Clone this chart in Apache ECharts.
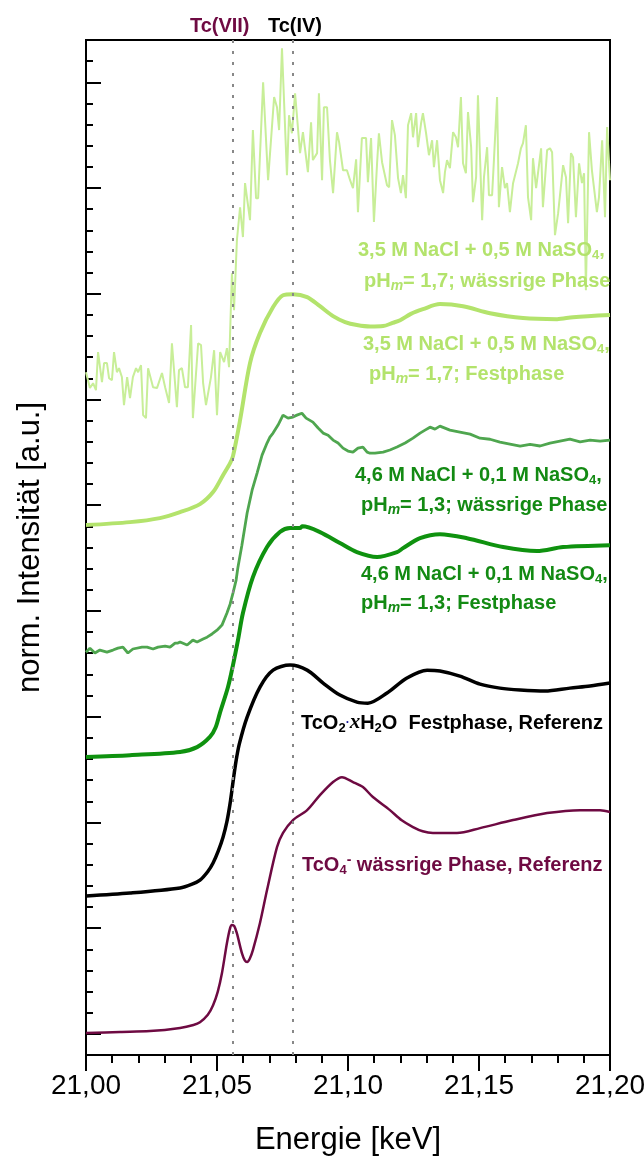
<!DOCTYPE html>
<html><head><meta charset="utf-8">
<script src="https://cdn.jsdelivr.net/npm/echarts@6/dist/echarts.min.js"></script>
<style>html,body{margin:0;padding:0;background:#fff}#c{width:644px;height:1156px}</style>
</head><body><div id="c"></div>
<script>
// Energy in eV, intensity in a.u. (stacked with offsets, 1 a.u. = one minor tick)
const energyRange = [21000, 21200];
const xTickLabels = ['21,00', '21,05', '21,10', '21,15', '21,20'];
const yRange = [0, 48];
const yMajorTicks = [1, 6, 11, 16, 21, 26, 31, 36, 41, 46];
const edgeMarkers = [
  { name: 'Tc(VII)', energy: 21056, color: '#6e0a42' },
  { name: 'Tc(IV)', energy: 21079, color: '#000000' }
];

const tcO4Aqueous = [[21000,1.04],[21013,1.09],[21024.4,1.13],[21035.9,1.28],[21041,1.42],[21043.5,1.55],[21046.5,1.90],[21048.5,2.35],[21050.3,3.00],[21051.9,3.88],[21053.8,5.30],[21055.0,6.00],[21055.7,6.15],[21056.6,6.10],[21057.6,5.75],[21059.5,4.82],[21060.6,4.48],[21061.5,4.40],[21062.5,4.55],[21063.7,4.96],[21066.4,6.24],[21069.1,7.80],[21072.9,9.83],[21075.2,10.50],[21079,11.11],[21084.4,11.58],[21089.3,12.29],[21094.3,12.91],[21097.7,13.14],[21101.9,12.91],[21105.7,12.67],[21109.5,12.20],[21116,11.58],[21120.5,11.10],[21124.8,10.78],[21128.5,10.58],[21132.4,10.50],[21141.6,10.50],[21150.4,10.73],[21163,11.11],[21176,11.44],[21188.6,11.58],[21196.2,11.58],[21200,11.49]];

const tcO2Solid = [[21000,7.52],[21016.8,7.66],[21035.9,7.90],[21040.5,8.08],[21043.5,8.27],[21046.5,8.68],[21048.5,9.08],[21050.5,9.65],[21052.3,10.30],[21053.8,11.05],[21055.0,11.90],[21056.1,12.90],[21057.2,13.85],[21058.5,14.70],[21061.5,15.98],[21066.4,17.40],[21071.4,18.20],[21077.9,18.44],[21084.4,18.20],[21090.5,17.59],[21096.9,17.02],[21103.4,16.69],[21107.6,16.64],[21114.9,17.12],[21122.5,17.83],[21130.2,18.20],[21135.1,18.16],[21142.7,17.92],[21150.4,17.54],[21158.0,17.35],[21165.7,17.26],[21175.2,17.21],[21184.7,17.35],[21192.4,17.45],[21200,17.59]];

const nacl46Solid = [[21000,14.09],[21016.8,14.18],[21035.9,14.33],[21042.4,14.56],[21047.3,15.04],[21049.5,15.50],[21051.1,16.17],[21054.2,17.40],[21056.1,18.44],[21058.0,19.62],[21059.9,20.90],[21063.7,22.60],[21069.1,24.02],[21074.0,24.73],[21077.9,24.92],[21081.7,24.92],[21082.6,25.00],[21089.3,24.73],[21096.9,24.21],[21103.4,23.78],[21111.1,23.55],[21118.7,23.78],[21121.0,23.97],[21127.5,24.44],[21135.1,24.63],[21145.4,24.44],[21159.2,24.02],[21172.1,23.83],[21182.1,24.02],[21200,24.11]];

const nacl46Aqueous = [[21000,19.05],[21001.5,19.24],[21003.4,19.01],[21005.3,19.15],[21008.0,19.05],[21010.3,19.15],[21012.2,19.24],[21014.1,19.29],[21016.0,19.01],[21017.9,19.20],[21021.4,19.29],[21023.3,19.29],[21025.6,19.20],[21027.5,19.29],[21030.2,19.34],[21032.1,19.29],[21034.0,19.48],[21035.1,19.48],[21035.9,19.53],[21038.6,19.39],[21040.8,19.62],[21042.4,19.53],[21044.7,19.67],[21046.2,19.76],[21048.1,19.91],[21050.0,20.09],[21051.9,20.33],[21053.8,20.90],[21055.0,21.32],[21056.1,21.84],[21057.3,22.46],[21058.0,23.07],[21059.5,24.11],[21061.5,25.63],[21063.4,26.71],[21065.3,27.52],[21067.2,28.37],[21069.1,28.94],[21070.2,29.22],[21071.4,29.41],[21073.3,29.79],[21075.2,30.26],[21077.1,30.12],[21079.0,30.17],[21080.5,30.26],[21082.4,30.35],[21084.0,30.12],[21086.6,29.93],[21088.6,29.65],[21090.5,29.41],[21092.4,29.31],[21094.3,29.08],[21096.2,28.94],[21098.1,28.70],[21100.0,28.56],[21101.9,28.51],[21103.8,28.70],[21105.7,28.75],[21107.3,28.51],[21108.4,28.46],[21110.3,28.46],[21113.4,28.51],[21116.0,28.61],[21118.7,28.75],[21121.8,28.94],[21124.8,29.17],[21127.5,29.41],[21129.4,29.55],[21131.3,29.69],[21133.2,29.60],[21135.1,29.74],[21138.9,29.55],[21142.7,29.46],[21146.6,29.36],[21150.4,29.17],[21154.2,29.12],[21158.0,28.98],[21161.8,28.89],[21165.7,28.79],[21169.5,28.88],[21173.3,28.80],[21177.1,28.94],[21180.9,29.03],[21184.7,29.12],[21188.6,29.00],[21192.4,29.08],[21196.2,29.03],[21200,29.08]];

const nacl35Solid = [[21000,25.06],[21016.8,25.20],[21028.2,25.39],[21035.9,25.67],[21043.5,26.05],[21048.5,26.62],[21052.3,27.42],[21055.0,27.99],[21056.1,28.32],[21058.8,30.02],[21062.6,32.72],[21066.4,34.14],[21071.4,35.37],[21075.2,35.93],[21079.0,35.98],[21084.4,35.84],[21089.3,35.41],[21094.3,34.94],[21098.9,34.66],[21103.4,34.52],[21108.5,34.45],[21113.4,34.47],[21117.0,34.62],[21119.9,34.75],[21124.0,35.05],[21128.6,35.27],[21135.1,35.51],[21143.9,35.41],[21154.2,35.08],[21166.8,34.85],[21179.8,34.80],[21185.9,34.89],[21200,34.99]];

const nacl35Aqueous = [[21000,32.29],[21001.5,31.54],[21002.7,31.77],[21003.8,31.44],[21004.6,33.24],[21006.1,31.82],[21006.9,32.72],[21008,32.72],[21008.8,32.01],[21009.9,31.91],[21010.7,33.24],[21011.8,32.29],[21012.6,32.48],[21013.7,32.06],[21014.5,30.73],[21015.7,32.06],[21016.8,31.06],[21017.9,32.06],[21019.1,32.48],[21019.9,32.29],[21021,32.62],[21021.8,30.26],[21022.9,30.12],[21023.7,32.48],[21025.6,31.58],[21027.1,31.54],[21029,32.25],[21030.2,31.58],[21030.9,31.58],[21031.7,30.83],[21032.8,33.66],[21034.7,30.64],[21035.5,32.39],[21036.6,32.48],[21037.8,31.58],[21038.9,31.58],[21040.1,34.52],[21040.8,30.12],[21042.8,33.66],[21043.9,33.57],[21044.7,31.77],[21045.8,30.73],[21047.7,32.06],[21048.9,33.33],[21050,30.26],[21051.2,33.24],[21052.7,32.77],[21053.8,33.43],[21054.6,32.53],[21055.7,36.97],[21056.5,35.22],[21057.6,38.53],[21058.8,40.09],[21059.9,38.68],[21060.7,41.23],[21062.6,39.48],[21063.7,43.74],[21064.9,40.52],[21065.7,40.52],[21067.6,46.00],[21069.5,41.37],[21071.8,45.30],[21072.9,44.82],[21073.7,43.74],[21074.8,47.61],[21076.7,41.61],[21077.5,44.44],[21078.6,43.59],[21079.8,45.48],[21081.7,42.65],[21082.8,43.64],[21084.7,41.75],[21085.9,44.11],[21086.6,42.32],[21088.2,42.65],[21088.9,45.48],[21090.1,41.37],[21090.8,44.82],[21092,44.82],[21093.1,42.32],[21094.3,40.76],[21095.8,43.64],[21096.6,43.17],[21098.1,41.84],[21099.6,41.84],[21100.8,41.37],[21101.9,40.99],[21103.1,42.36],[21103.8,39.86],[21105.3,43.36],[21106.9,43.36],[21107.6,41.28],[21108.8,43.36],[21109.9,39.39],[21111.1,42.17],[21111.8,43.59],[21113,42.22],[21113.7,42.22],[21114.9,41.13],[21115.7,41.04],[21116.8,44.21],[21117.9,43.50],[21119.1,41.47],[21120.2,40.76],[21121,41.61],[21122.1,40.52],[21122.9,43.97],[21124.1,44.54],[21124.8,43.40],[21126,44.54],[21126.7,42.93],[21127.9,44.07],[21128.6,44.54],[21129.8,43.59],[21130.9,42.55],[21132.1,43.26],[21132.8,41.99],[21134,43.26],[21135.1,41.37],[21136.3,40.76],[21137,41.75],[21137.8,42.32],[21138.9,41.94],[21140.1,43.64],[21141.2,43.40],[21142,42.93],[21143.1,45.30],[21143.9,42.17],[21145,41.70],[21145.8,44.59],[21147,42.93],[21147.7,40.33],[21148.9,41.51],[21149.6,45.39],[21151.2,39.48],[21151.9,41.51],[21153.1,42.93],[21153.8,40.66],[21155,40.66],[21155.7,42.32],[21156.9,45.30],[21157.6,40.09],[21158.8,41.99],[21159.9,40.99],[21160.7,41.23],[21161.8,39.86],[21163,41.23],[21163.7,41.23],[21164.9,42.17],[21166,42.88],[21166.8,43.12],[21167.9,43.97],[21168.7,40.57],[21169.9,39.48],[21170.6,42.41],[21171.8,40.99],[21172.5,41.04],[21173.7,42.88],[21174.4,40.09],[21176,42.79],[21177.1,42.88],[21177.9,42.69],[21179,38.77],[21180.2,39.81],[21180.9,39.81],[21182.1,42.08],[21183.2,41.51],[21184,39.34],[21185.1,42.65],[21185.9,42.46],[21187,39.62],[21188.2,42.17],[21189.3,41.23],[21190.1,41.70],[21190.8,36.17],[21192,43.64],[21193.1,41.84],[21195,39.86],[21195.8,40.57],[21197,43.26],[21198.1,39.62],[21198.9,43.88],[21200,41.37]];

const FONT = 'Liberation Sans, Arial, Helvetica, sans-serif';
const C_PURPLE = '#6e0a42', C_LG_AQ = '#c8ee98', C_LG = '#b3e36c', C_MG = '#4fa64f', C_DG = '#0f920f', C_DG_TXT = '#138a13';

function richFor(color) {
  const base = { fontFamily: FONT, fontWeight: 'bold', fill: color };
  return {
    s: Object.assign({}, base, { fontSize: 13, lineHeight: 13, verticalAlign: 'bottom' }),
    m: Object.assign({}, base, { fontSize: 14, lineHeight: 14, fontStyle: 'italic', verticalAlign: 'bottom' }),
    p: Object.assign({}, base, { fontSize: 14, lineHeight: 14, verticalAlign: 'top' }),
    d: Object.assign({}, base, { fontSize: 12, lineHeight: 24, fill: '#1a1a9a' }),
    x: { fontFamily: 'Liberation Serif, Times New Roman, serif', fontStyle: 'italic', fontWeight: 'bold', fontSize: 21, lineHeight: 24, fill: color }
  };
}
function note(x, y, text, color) {
  return {
    type: 'text', x: x, y: y, silent: true, z: 100,
    style: { text: text, fill: color, fontFamily: FONT, fontWeight: 'bold', fontSize: 20, lineHeight: 24, verticalAlign: 'middle', align: 'left', rich: richFor(color) }
  };
}

const chart = echarts.init(document.getElementById('c'), null, { renderer: 'canvas' });
const lineSeries = (name, data, color, width, smooth, z) => ({
  name, type: 'line', data, symbol: 'none', smooth, z, xAxisIndex: 0, yAxisIndex: 0,
  lineStyle: { color, width }, itemStyle: { color }, animation: false
});

const series = [
  lineSeries('3,5 M NaCl aq', nacl35Aqueous, C_LG_AQ, 2, false, 2),
  lineSeries('3,5 M NaCl fest', nacl35Solid, C_LG, 4, 0.3, 3),
  lineSeries('4,6 M NaCl aq', nacl46Aqueous, C_MG, 2.8, false, 3),
  lineSeries('4,6 M NaCl fest', nacl46Solid, C_DG, 4, 0.3, 3),
  lineSeries('TcO2', tcO2Solid, '#000000', 3.5, 0.3, 3),
  lineSeries('TcO4', tcO4Aqueous, C_PURPLE, 2.5, 0.3, 3)
];
series[0].markLine = {
  silent: true, symbol: 'none', animation: false,
  lineStyle: { color: '#888888', type: [3, 8], width: 2 },
  label: { show: true, position: 'end', fontFamily: FONT, fontWeight: 'bold', fontSize: 20, distance: 4 },
  data: edgeMarkers.map((m, i) => ({ xAxis: m.energy, label: { formatter: m.name, color: m.color, offset: [i === 0 ? -13 : 2, 0] } }))
};

chart.setOption({
  animation: false,
  backgroundColor: '#ffffff',
  grid: { left: 86, right: 34, top: 40, bottom: 101, containLabel: false, outerBoundsMode: 'none', show: true, borderColor: '#000', borderWidth: 2, backgroundColor: 'transparent' },
  xAxis: [{
    type: 'value', min: energyRange[0], max: energyRange[1], interval: 50,
    name: 'Energie [keV]', nameLocation: 'middle', nameGap: 70,
    nameTextStyle: { fontFamily: FONT, fontSize: 31, color: '#000' },
    axisLine: { show: true, onZero: false, lineStyle: { color: '#000', width: 2 } },
    axisTick: { show: true, inside: false, length: 16, lineStyle: { color: '#000', width: 2 } },
    minorTick: { show: true, splitNumber: 5, length: 8, lineStyle: { color: '#000', width: 2 } },
    splitLine: { show: false }, minorSplitLine: { show: false },
    axisLabel: { margin: 17, fontFamily: FONT, fontSize: 28, color: '#000', formatter: v => xTickLabels[Math.round((v - energyRange[0]) / 50)] }
  }],
  yAxis: [{
    type: 'value', min: yRange[0], max: yRange[1], interval: 1, position: 'left',
    name: 'norm. Intensität [a.u.]', nameLocation: 'middle', nameGap: 40,
    nameTextStyle: { fontFamily: FONT, fontSize: 31, color: '#000' },
    axisLine: { show: true, onZero: false, lineStyle: { color: '#000', width: 2 } },
    axisTick: { show: true, inside: true, length: 7, lineStyle: { color: '#000', width: 2 } },
    axisLabel: { show: false }, splitLine: { show: false }
  }, {
    type: 'value', min: yRange[0], max: yRange[1], position: 'left', offset: 0,
    axisLine: { show: false },
    axisTick: { show: true, inside: true, length: 15, customValues: yMajorTicks, lineStyle: { color: '#000', width: 2 } },
    axisLabel: { show: false }, splitLine: { show: false }
  }],
  graphic: [
    note(358, 250, '3,5 M NaCl + 0,5 M NaSO{s|4},', C_LG),
    note(364, 281, 'pH{m|m}= 1,7; wässrige Phase', C_LG),
    note(363, 344, '3,5 M NaCl + 0,5 M NaSO{s|4},', C_LG),
    note(369, 374, 'pH{m|m}= 1,7; Festphase', C_LG),
    note(355, 475, '4,6 M NaCl + 0,1 M NaSO{s|4},', C_DG_TXT),
    note(361, 505, 'pH{m|m}= 1,3; wässrige Phase', C_DG_TXT),
    note(361, 574, '4,6 M NaCl + 0,1 M NaSO{s|4},', C_DG_TXT),
    note(361, 603, 'pH{m|m}= 1,3; Festphase', C_DG_TXT),
    note(301, 723, 'TcO{s|2}{d|·}{x|x}H{s|2}O  Festphase, Referenz', '#000000'),
    note(302, 865, 'TcO{s|4}{p|-} wässrige Phase, Referenz', C_PURPLE)
  ],
  series
});
</script></body></html>
